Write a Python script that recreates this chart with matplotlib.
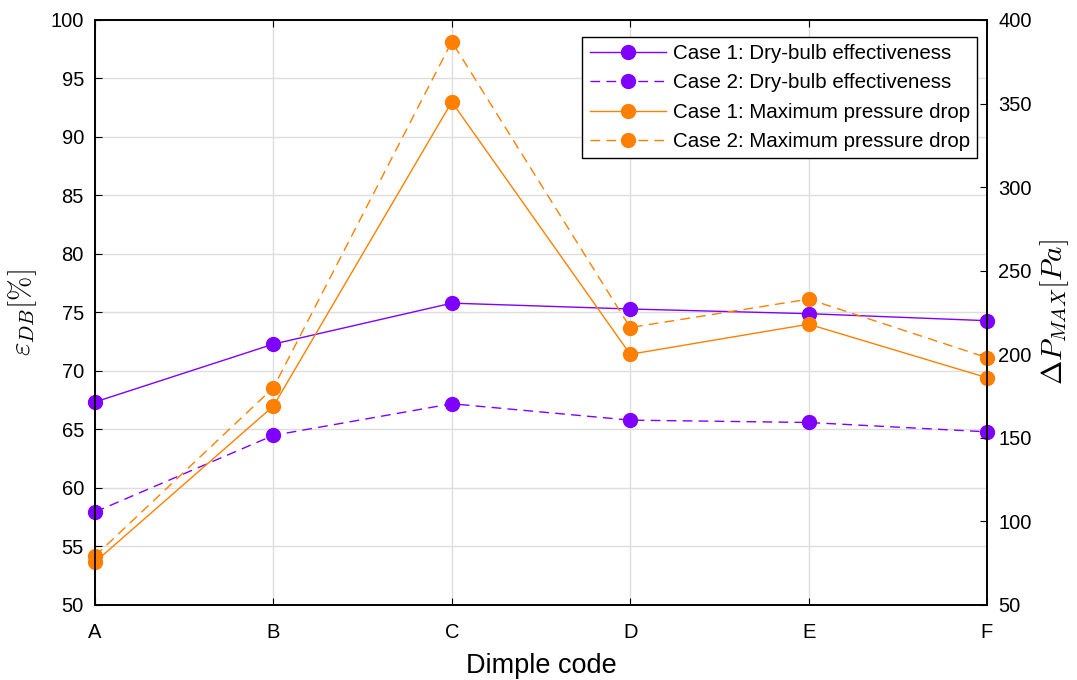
import matplotlib.pyplot as plt
import numpy as np

plt.rcParams['font.family'] = ['Liberation Sans', 'DejaVu Sans']
plt.rcParams['mathtext.fontset'] = 'cm'

# Data
codes = ['A', 'B', 'C', 'D', 'E', 'F']
eff_case1 = [67.35, 72.3, 75.8, 75.3, 74.9, 74.3]
eff_case2 = [57.95, 64.5, 67.2, 65.8, 65.6, 64.8]
dp_case1 = [75.7, 169, 351, 200, 218, 186]
dp_case2 = [79.3, 180, 387, 216, 233, 198]

purple = '#7F00FF'
orange = '#FF8000'
dash = (0, (7, 4.5))

fig = plt.figure(figsize=(10.77, 6.8), dpi=100)
ax = fig.add_axes([95/1077, 1 - 605/680, (987 - 95)/1077, (605 - 20)/680])
ax2 = ax.twinx()

x = np.arange(len(codes))

l1, = ax.plot(x, eff_case1, color=purple, linewidth=1, marker='o', markersize=10,
              clip_on=False, label='Case 1: Dry-bulb effectiveness')
l2, = ax.plot(x, eff_case2, color=purple, linewidth=1, linestyle=dash, marker='o', markersize=10,
              clip_on=False, label='Case 2: Dry-bulb effectiveness')
l3, = ax2.plot(x, dp_case1, color=orange, linewidth=1, marker='o', markersize=10,
               clip_on=False, label='Case 1: Maximum pressure drop')
l4, = ax2.plot(x, dp_case2, color=orange, linewidth=1, linestyle=dash, marker='o', markersize=10,
               clip_on=False, label='Case 2: Maximum pressure drop')

ax.set_xlim(0, 5)
ax.set_ylim(50, 100)
ax.set_yticks(np.arange(50, 101, 5))
ax2.set_ylim(50, 400)
ax2.set_yticks(np.arange(50, 401, 50))
ax.set_xticks(x)
ax.set_xticklabels(codes)

ax.grid(True, color='#dedede', linewidth=1)
ax.set_axisbelow(True)

for a in (ax, ax2):
    a.tick_params(direction='in', labelsize=14.5, length=5, width=0.8, colors='black')
    for s in a.spines.values():
        s.set_linewidth(1.2)
ax.tick_params(axis='x', top=True, pad=13)
ax.tick_params(axis='y', pad=8)
ax2.tick_params(axis='y', pad=8)

ax.set_xlabel('Dimple code', fontsize=19.5, labelpad=8)
ax.set_ylabel(r'$\varepsilon_{DB}[\%]$', fontsize=21, labelpad=8)
ax2.set_ylabel(r'$\Delta P_{MAX}[Pa]$', fontsize=21, labelpad=5)

leg = ax2.legend(handles=[l1, l2, l3, l4], loc='upper right', bbox_to_anchor=(0.989, 0.971),
                 fontsize=14.8, fancybox=False, framealpha=1, edgecolor='black',
                 borderpad=0.35, handlelength=3.7, labelspacing=0.5, handletextpad=0.35,
                 borderaxespad=0)
leg.get_frame().set_linewidth(1)

fig.savefig('out.png', dpi=100)
